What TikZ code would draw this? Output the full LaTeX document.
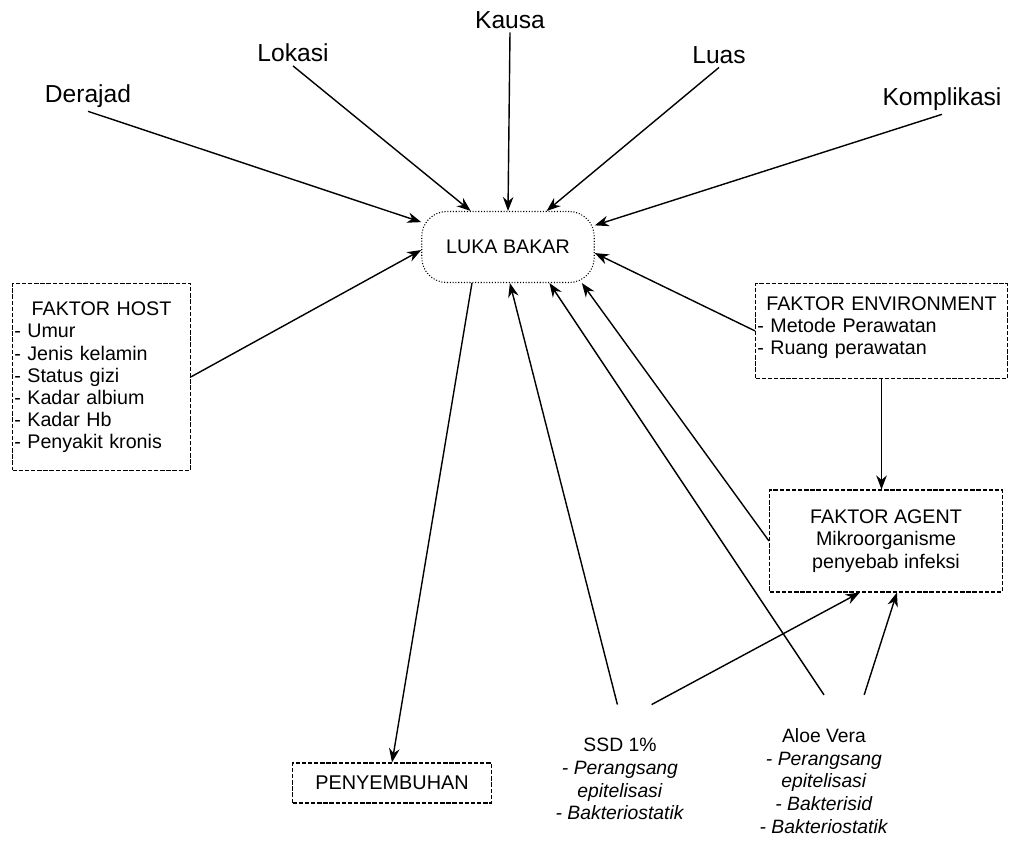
\documentclass[tikz,border=0pt]{standalone}
\usepackage{fontspec}
\setmainfont{Liberation Sans}
\usetikzlibrary{arrows.meta}
\lineskiplimit=-10pt

\begin{document}
\begin{tikzpicture}[x=0.02cm, y=-0.02cm,
  arr/.style={line width=0.8pt, -{Stealth[length=8pt, width=6pt]}},
  toplabel/.style={font=\fontsize{14}{16}\selectfont, inner sep=2pt},
  dashbox/.style={draw, dash pattern=on 2.5pt off 1pt, line width=0.6pt},
  drug/.style={align=center, font=\fontsize{11}{13}\selectfont, outer ysep=0.55cm}]
  \useasboundingbox (0,0) rectangle (1011,840);

% what the burn depends on
\node [toplabel] (derajad)    at (88,96)  {Derajad};
\node [toplabel] (lokasi)     at (293,53) {Lokasi};
\node [toplabel] (kausa)      at (510,20) {Kausa};
\node [toplabel] (luas)       at (719,55) {Luas};
\node [toplabel] (komplikasi) at (942,99) {Komplikasi};

\node [draw, densely dotted, line width=0.6pt, rounded corners=0.5cm,
  minimum width=3.45cm, minimum height=1.42cm,
  font=\fontsize{11.2}{13}\selectfont] (luka) at (508,247) {LUKA BAKAR};

% factor boxes
\node [dashbox, anchor=north west, text width=3.49cm, align=left,
  inner xsep=1pt, inner ysep=10.5pt, text depth=2.72cm,
  font=\fontsize{11.2}{12.6}\selectfont] (host) at (12,283)
  {\makebox[\hsize]{FAKTOR HOST}\\- Umur\\- Jenis kelamin\\- Status gizi\\- Kadar albium\\- Kadar Hb\\- Penyakit kronis};

\node [dashbox, anchor=north west, text width=4.97cm, align=left,
  inner xsep=1pt, inner ysep=7.4pt, text depth=1.1cm,
  font=\fontsize{11.2}{12.5}\selectfont] (env) at (755,283)
  {\makebox[\hsize]{FAKTOR ENVIRONMENT}\\- Metode Perawatan\\- Ruang perawatan};

\node [dashbox, minimum width=4.66cm, minimum height=2.04cm, align=center,
  font=\fontsize{11.2}{13}\selectfont] (agent) at (886,541)
  {FAKTOR AGENT\\Mikroorganisme\\penyebab infeksi};

\node [dashbox, minimum width=3.98cm, minimum height=0.8cm,
  font=\fontsize{11.3}{13}\selectfont] (sembuh) at (392,783) {PENYEMBUHAN};

% treatments
\node [drug] (ssd) at (620,779)
  {SSD 1\%\\\textit{- Perangsang}\\\textit{epitelisasi}\\\textit{- Bakteriostatik}};
\node [drug] (aloe) at (824,781)
  {Aloe Vera\\\textit{- Perangsang}\\\textit{epitelisasi}\\\textit{- Bakterisid}\\\textit{- Bakteriostatik}};

% arrows
\draw [arr] (derajad.south) -- (luka.164);
\draw [arr] (lokasi.south) -- (luka.136);
\draw [arr] (kausa.south) -- (luka.north);
\draw [arr] (luas.south) -- (luka.43);
\draw [arr] (komplikasi.south) -- (luka.14);
\draw [arr] (host.east) -- (luka.182);
\draw [arr] (env.west) -- (luka.-4);
\draw [arr] (env.south) -- (env.south |- agent.north);
\draw [arr] (agent.west) -- (luka.-26);
\draw [arr] (ssd.92) -- (luka.-87);
\draw [arr] (aloe.north) -- (luka.-41);
\draw [arr] (ssd.67) -- (agent.243);
\draw [arr] (aloe.65) -- (agent.282);
\draw [arr] (luka.225) -- (sembuh.north);
\end{tikzpicture}
\end{document}
